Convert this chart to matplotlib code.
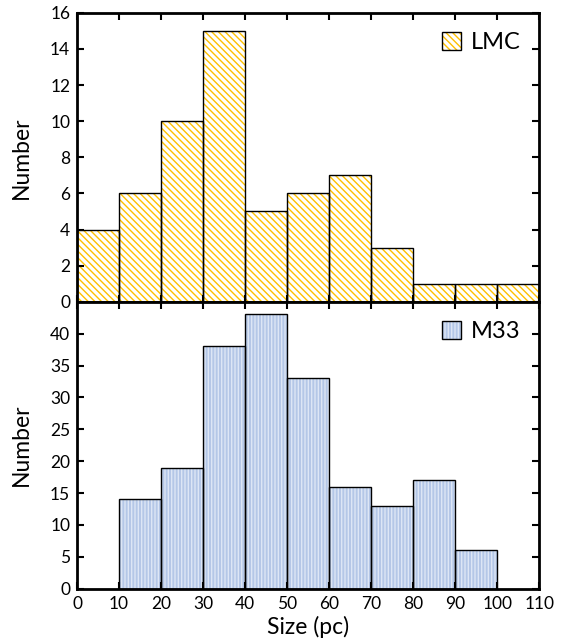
import matplotlib
matplotlib.use("Agg")
import matplotlib.pyplot as plt
import numpy as np
from matplotlib.patches import Patch

plt.rcParams['font.family'] = ['Lato', 'DejaVu Sans']
plt.rcParams['hatch.linewidth'] = 1.0

bin_edges = [0, 10, 20, 30, 40, 50, 60, 70, 80, 90, 100, 110]
lmc_counts = [4, 6, 10, 15, 5, 6, 7, 3, 1, 1, 1]
m33_counts = [0, 14, 19, 38, 43, 33, 16, 13, 17, 6, 0]
x_ticks = [0, 10, 20, 30, 40, 50, 60, 70, 80, 90, 100, 110]

lmc_hatch_color = '#FFC000'
m33_face = '#B4C7E7'
m33_stripe = '#DDE6F5'

LMC_HATCH = '\\' * 5
M33_HATCH = '|' * 5

fig = plt.figure(figsize=(5.67, 6.42), dpi=100)
ax1 = fig.add_axes([0.136, 0.530, 0.815, 0.450])
ax2 = fig.add_axes([0.136, 0.083, 0.815, 0.447], sharex=ax1)

left = np.array(bin_edges[:-1])
width = np.diff(bin_edges)

# LMC
ax1.bar(left, lmc_counts, width=width, align='edge', facecolor='white',
        edgecolor=lmc_hatch_color, hatch=LMC_HATCH, linewidth=0)
ax1.bar(left, lmc_counts, width=width, align='edge', facecolor='none',
        edgecolor='black', linewidth=1.0)

# M33
m33 = np.array(m33_counts)
mask = m33 > 0
ax2.bar(left[mask], m33[mask], width=width[mask], align='edge', facecolor=m33_face,
        edgecolor=m33_stripe, hatch=M33_HATCH, linewidth=0)
ax2.bar(left[mask], m33[mask], width=width[mask], align='edge', facecolor='none',
        edgecolor='black', linewidth=1.0)

ax1.set_ylim(0, 16)
ax1.set_yticks(range(0, 17, 2))
ax2.set_ylim(0, 45)
ax2.set_yticks(range(0, 41, 5))
ax1.set_xlim(0, 110)
ax2.set_xticks(x_ticks)
ax1.tick_params(labelbottom=False)

for ax in (ax1, ax2):
    for s in ax.spines.values():
        s.set_linewidth(2.0)
    ax.tick_params(direction='in', top=True, right=True, length=5, width=1.5,
                   labelsize=12.5, pad=5)
    ax.set_ylabel('Number', fontsize=16.5)

ax2.set_xlabel('Size (pc)', fontsize=16.5, labelpad=3)
ax1.yaxis.set_label_coords(-0.098, 0.5)
ax2.yaxis.set_label_coords(-0.098, 0.5)

h1 = Patch(facecolor='white', edgecolor=lmc_hatch_color, hatch=LMC_HATCH, linewidth=0)
h1b = Patch(facecolor='none', edgecolor='black', linewidth=1.0)
ax1.legend([(h1, h1b)], ['LMC'], loc='upper right', frameon=False, fontsize=17,
           handlelength=0.8, handleheight=0.8, handletextpad=0.4,
           borderaxespad=0.3, bbox_to_anchor=(0.995, 0.99))
h2 = Patch(facecolor=m33_face, edgecolor=m33_stripe, hatch=M33_HATCH, linewidth=0)
h2b = Patch(facecolor='none', edgecolor='black', linewidth=1.0)
ax2.legend([(h2, h2b)], ['M33'], loc='upper right', frameon=False, fontsize=17,
           handlelength=0.8, handleheight=0.8, handletextpad=0.4,
           borderaxespad=0.3, bbox_to_anchor=(0.995, 0.99))

fig.savefig('out.png', dpi=100)
